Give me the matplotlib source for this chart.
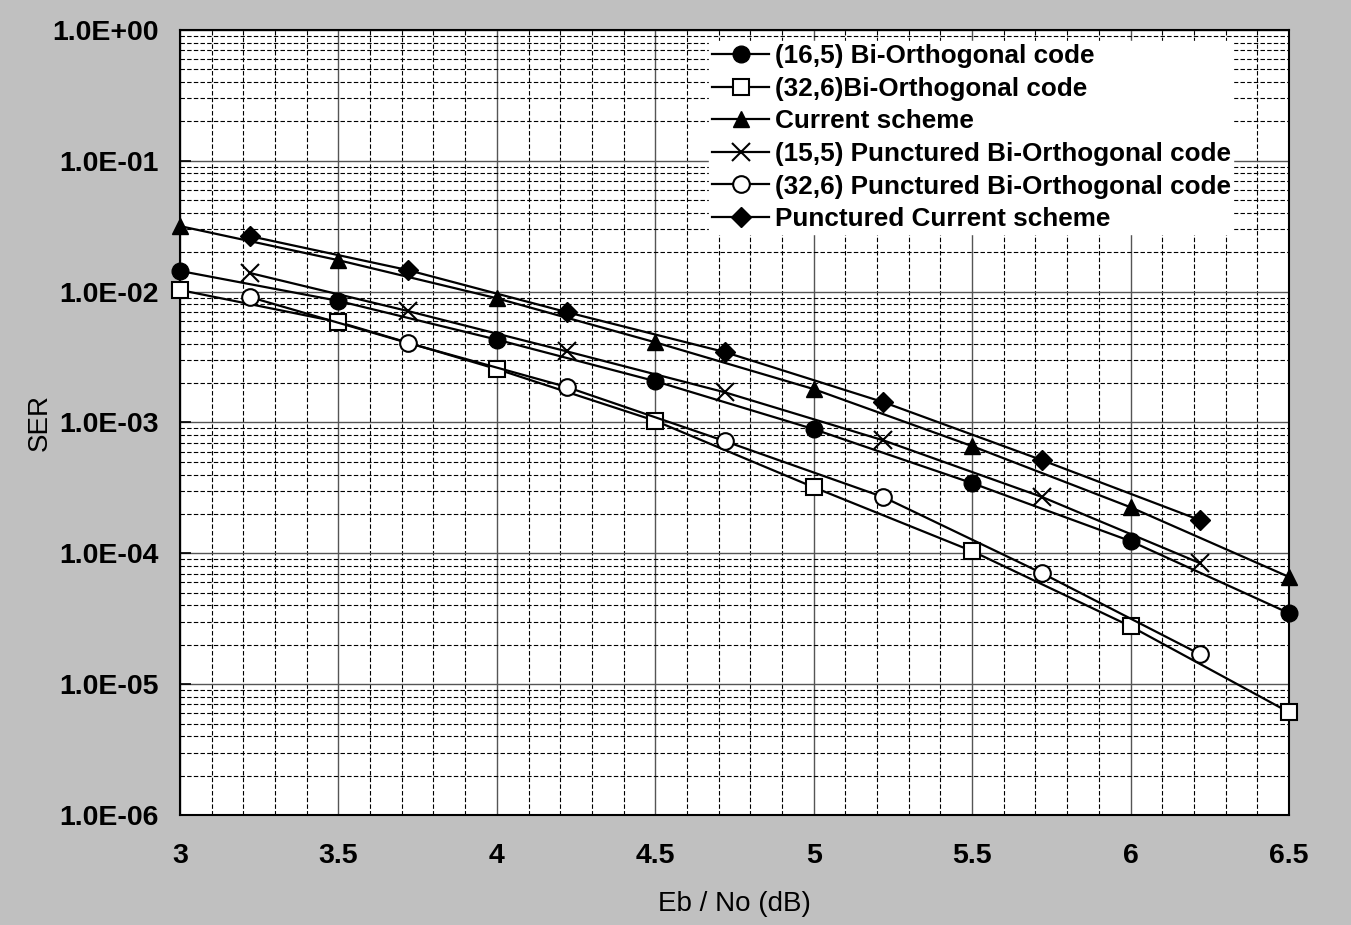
import matplotlib
matplotlib.use("Agg")
import matplotlib.pyplot as plt
from matplotlib.ticker import FixedLocator, LogLocator, MultipleLocator, FuncFormatter, NullFormatter

plt.rcParams['font.family'] = ['Liberation Sans', 'DejaVu Sans']

# Eb/No points (dB)
ebno = [3.0, 3.5, 4.0, 4.5, 5.0, 5.5, 6.0, 6.5]
ebno_punct = [3.22, 3.72, 4.22, 4.72, 5.22, 5.72, 6.22]

# SER values
ser_bo_16_5 = [1.44e-2, 8.5e-3, 4.3e-3, 2.07e-3, 8.9e-4, 3.44e-4, 1.24e-4, 3.49e-5]
ser_bo_32_6 = [1.03e-2, 5.86e-3, 2.56e-3, 1.03e-3, 3.2e-4, 1.04e-4, 2.77e-5, 6.1e-6]
ser_current = [3.17e-2, 1.74e-2, 8.9e-3, 4.1e-3, 1.8e-3, 6.6e-4, 2.25e-4, 6.6e-5]
ser_pbo_15_5 = [1.39e-2, 7.1e-3, 3.5e-3, 1.7e-3, 7.3e-4, 2.7e-4, 8.4e-5]
ser_pbo_32_6 = [9.1e-3, 4.05e-3, 1.87e-3, 7.2e-4, 2.69e-4, 7.06e-5, 1.69e-5]
ser_pcurrent = [2.66e-2, 1.46e-2, 6.98e-3, 3.45e-3, 1.43e-3, 5.16e-4, 1.79e-4]

y_decades = [1e-6, 1e-5, 1e-4, 1e-3, 1e-2, 1e-1, 1e0]

fig = plt.figure(figsize=(13.51, 9.25), dpi=100, facecolor='#C0C0C0')
ax = fig.add_axes([0.1332, 0.1189, 0.8209, 0.8487])
ax.set_facecolor('white')

lw = 1.6
common = dict(color='black', lw=lw, clip_on=False, zorder=3)
ax.plot(ebno, ser_bo_16_5, marker='o', ms=12, mfc='black',
        label='(16,5) Bi-Orthogonal code', **common)
ax.plot(ebno, ser_bo_32_6, marker='s', ms=11, mfc='white', mew=1.5,
        label='(32,6)Bi-Orthogonal code', **common)
ax.plot(ebno, ser_current, marker='^', ms=12, mfc='black',
        label='Current scheme', **common)
ax.plot(ebno_punct, ser_pbo_15_5, marker='x', ms=13, mew=1.5,
        label='(15,5) Punctured Bi-Orthogonal code', **common)
ax.plot(ebno_punct, ser_pbo_32_6, marker='o', ms=12, mfc='white', mew=1.5,
        label='(32,6) Punctured Bi-Orthogonal code', **common)
ax.plot(ebno_punct, ser_pcurrent, marker='D', ms=10, mfc='black',
        label='Punctured Current scheme', **common)

ax.set_yscale('log')
ax.set_xlim(3, 6.5)
ax.set_ylim(1e-6, 1)

ax.xaxis.set_major_locator(MultipleLocator(0.5))
ax.xaxis.set_minor_locator(MultipleLocator(0.1))
ax.xaxis.set_major_formatter(FuncFormatter(lambda v, p: f"{v:g}"))
ax.yaxis.set_major_locator(FixedLocator(y_decades))
ax.yaxis.set_minor_locator(LogLocator(base=10, subs=range(2, 10), numticks=100))
ax.yaxis.set_major_formatter(FuncFormatter(lambda v, p: f"{v:.1E}"))
ax.yaxis.set_minor_formatter(NullFormatter())

ax.grid(which='major', color='#555555', linestyle='-', lw=1.0)
ax.grid(which='minor', color='black', linestyle=(0, (4, 2)), lw=0.8)
ax.set_axisbelow(True)

ax.tick_params(axis='y', which='major', direction='in', length=8, width=1.2, pad=15)
ax.tick_params(axis='x', which='major', length=0, pad=20)
ax.tick_params(which='minor', length=0)
for lab in ax.get_xticklabels() + ax.get_yticklabels():
    lab.set_fontweight('bold')
    lab.set_fontsize(20.5)

for s in ax.spines.values():
    s.set_color('black')
    s.set_linewidth(1.5)

ax.set_xlabel('Eb / No (dB)', fontsize=20, labelpad=16)
ax.set_ylabel('SER', fontsize=20, labelpad=0)

leg = ax.legend(loc='upper left', bbox_to_anchor=(0.4655, 1.002), frameon=True,
                fancybox=False, edgecolor='white', framealpha=1.0,
                prop={'weight': 'bold', 'size': 18.8}, handlelength=2.2,
                handletextpad=0.2, labelspacing=0.33, borderpad=0.1)
leg.set_zorder(5)

fig.savefig('out.png', dpi=100, facecolor=fig.get_facecolor())
